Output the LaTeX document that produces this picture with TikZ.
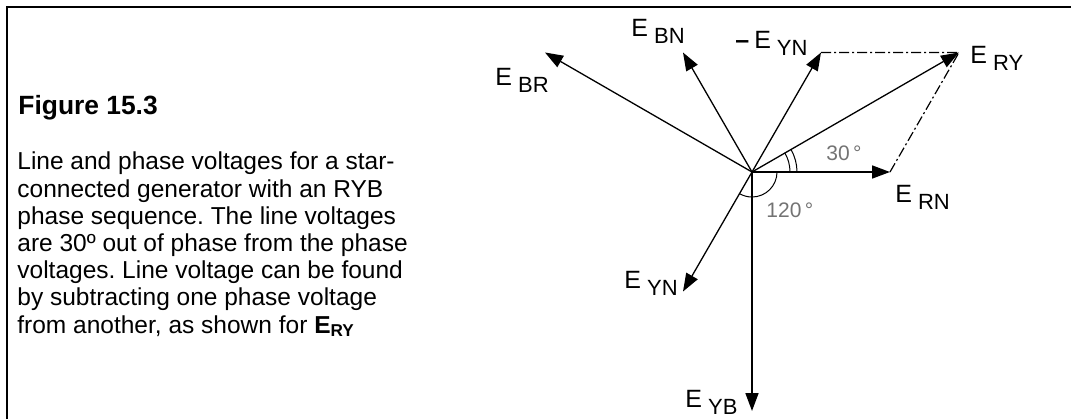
\documentclass[tikz,border=0pt]{standalone}
\usepackage{fontspec}
\setmainfont{Liberation Sans}
\usetikzlibrary{arrows.meta}
\frenchspacing
\newcommand{\Esub}[1]{E\hspace{3pt}\raisebox{-3.5pt}{\fontsize{11}{12}\selectfont #1}}

\begin{document}
\begin{tikzpicture}[x=0.5pt,y=0.5pt,
  phasor/.style={-{Triangle[length=9pt,width=6.5pt]}, line width=0.65pt},
  thickphasor/.style={phasor, line width=0.85pt},
  construct/.style={line width=0.6pt, dash pattern=on 5pt off 1.5pt on 1pt off 1.5pt},
  lbl/.style={anchor=base west, inner sep=0pt, font=\fontsize{12.5}{14}\selectfont},
  anglelbl/.style={anchor=base west, inner sep=0pt, text=anglegrey, font=\fontsize{10.5}{12}\selectfont}]
  \definecolor{anglegrey}{gray}{0.45}
  \def\phaselen{138}
  \def\linelen{239}
  \useasboundingbox (0,0) rectangle (1071,-419);
  \draw[line width=0.7pt] (7,-419) -- (7,-7) -- (1071,-7);
  % caption
  \node[anchor=base west, inner sep=0pt, font=\fontsize{13.2}{15}\selectfont\bfseries] (title) at (18,-114) {Figure 15.3};
  \node[anchor=base west, inner sep=0pt, align=left, font=\fontsize{12.25}{13.6}\selectfont] (caption) at (17,-333)
    {Line and phase voltages for a star-\\
     connected generator with an RYB\\
     phase sequence. The line voltages\\
     are 30º out of phase from the phase\\
     voltages. Line voltage can be found\\
     by subtracting one phase voltage\\
     from another, as shown for \textbf{E\textsubscript{RY}}};
  % phasor diagram
  \begin{scope}[shift={(752,-172)}]
    \coordinate (O) at (0,0);
    \coordinate (rn) at (0:\phaselen);
    \coordinate (nyn) at (60:\phaselen);
    \coordinate (bn) at (120:\phaselen);
    \coordinate (yn) at (240:\phaselen);
    \coordinate (ry) at (30:\linelen);
    \coordinate (br) at (150:\linelen);
    \coordinate (yb) at (270:\linelen);
    \draw[line width=0.5pt] (38,0) arc[start angle=0, end angle=30, radius=38];
    \draw[line width=0.5pt] (45,0) arc[start angle=0, end angle=30, radius=45];
    \draw[line width=0.5pt] (25,0) arc[start angle=0, end angle=-120, radius=25];
    \draw[construct] (nyn) -- (ry);
    \draw[construct] (rn) -- (ry);
    \draw[thickphasor] (O) -- (rn);
    \draw[thickphasor] (O) -- (yb);
    \draw[phasor] (O) -- (yn);
    \draw[phasor] (O) -- (nyn);
    \draw[phasor] (O) -- (bn);
    \draw[phasor] (O) -- (br);
    \draw[phasor] (O) -- (ry);
  \end{scope}
  % labels
  \node[lbl] (lbr) at (495,-85) {\Esub{BR}};
  \node[lbl] (lbn) at (631,-36) {\Esub{BN}};
  \node[lbl] (lnyn) at (735,-48) {\textbf{–}\hspace{2.5pt}\Esub{YN}};
  \node[lbl] (lry) at (970,-63) {\Esub{RY}};
  \node[lbl] (lrn) at (895,-202) {\Esub{RN}};
  \node[lbl] (lyn) at (624,-288) {\Esub{YN}};
  \node[lbl] (lyb) at (685,-407) {\Esub{YB}};
  \node[anglelbl] (a30) at (826,-160) {30\,°};
  \node[anglelbl] (a120) at (766,-217) {120\,°};
\end{tikzpicture}
\end{document}
